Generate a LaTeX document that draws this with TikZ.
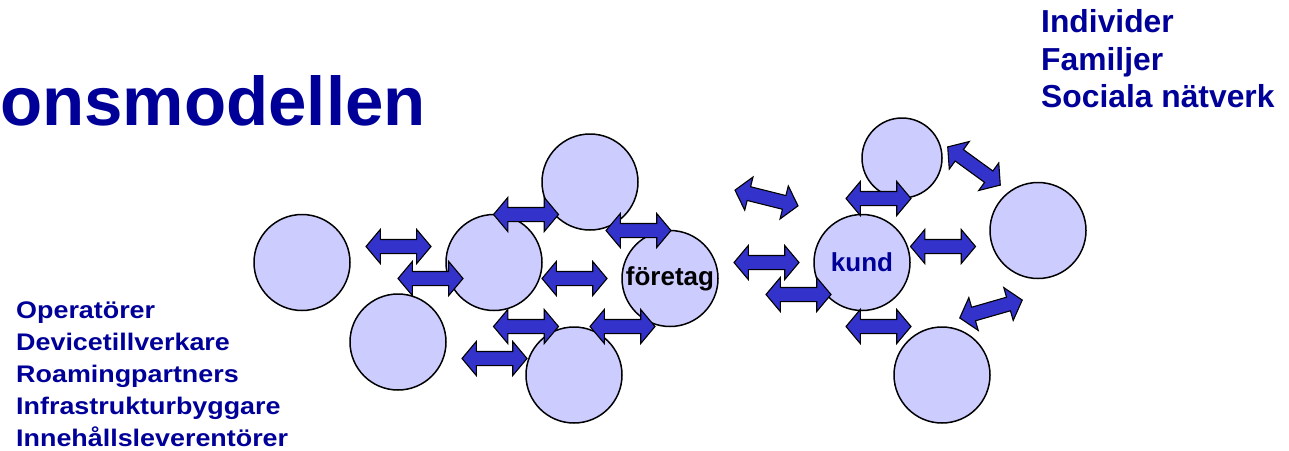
\documentclass[tikz,border=0pt]{standalone}
\usepackage{fontspec}
\setmainfont{Liberation Sans}
\usetikzlibrary{shapes.arrows}
\definecolor{circfill}{HTML}{CCCCFF}
\definecolor{arrfill}{HTML}{3333CC}
\definecolor{navy}{HTML}{000099}
\tikzset{
  ent/.style={circle, draw=black, line width=1.5pt, fill=circfill,
    minimum size=96pt, inner sep=0pt, font=\bfseries\fontsize{26}{30}\selectfont},
  link/.style={double arrow, draw=black, line width=1.1pt, fill=arrfill,
    minimum height=65pt, inner xsep=0pt, inner ysep=6.5pt,
    double arrow head extend=10pt, double arrow tip angle=100,
    text height=0pt, text depth=0pt},
  titletext/.style={anchor=base west, inner sep=0pt, text=navy,
    font=\bfseries\fontsize{69}{80}\selectfont},
  lefttext/.style={anchor=base west, inner sep=0pt, text=navy, xscale=1.12, transform shape,
    font=\bfseries\fontsize{24}{28}\selectfont},
  righttext/.style={anchor=base west, inner sep=0pt, text=navy,
    font=\bfseries\fontsize{31.8}{36}\selectfont}
}
\begin{document}
\begin{tikzpicture}[x=1pt,y=-1pt]
\useasboundingbox (0,0) rectangle (1289,450);
% texts
\node[titletext] (title) at (0,125) {onsmodellen};
\node[righttext] (r1) at (1041,32) {Individer};
\node[righttext] (r2) at (1041,70) {Familjer};
\node[righttext] (r3) at (1041,107) {Sociala nätverk};
\node[lefttext] (l1) at (16,318) {Operatörer};
\node[lefttext] (l2) at (16,350) {Devicetillverkare};
\node[lefttext] (l3) at (16,382) {Roamingpartners};
\node[lefttext] (l4) at (16,414) {Infrastrukturbyggare};
\node[lefttext] (l5) at (16,446) {Innehållsleverentörer};
% circles
\node[ent] (c1) at (302,262.5) {};
\node[ent] (c2) at (494,262.5) {};
\node[ent] (c3) at (398,342) {};
\node[ent] (c4) at (590,182) {};
\node[ent] (c5) at (574,375) {};
\node[ent] (ftg) at (670,278.5) {företag};
\node[ent, text=navy] (kund) at (862,262.5) {kund};
\node[ent, minimum size=80pt] (d1) at (902,158) {};
\node[ent] (d2) at (1038,230.5) {};
\node[ent] (d3) at (942,375) {};
% arrows
\node[link] (a1) at (398.5,246.5) {};
\node[link] (a2) at (430.5,278.5) {};
\node[link] (a3) at (526,214.5) {};
\node[link] (a4) at (574.5,278.5) {};
\node[link] (a5) at (638.5,230.5) {};
\node[link] (a6) at (526,326.5) {};
\node[link] (a7) at (622.5,326.5) {};
\node[link] (a8) at (494.5,358.5) {};
\node[link, rotate=-14] (b1) at (766.5,198) {};
\node[link] (b2) at (766.5,262.5) {};
\node[link] (b3) at (798.5,294.5) {};
\node[link] (b4) at (878.5,198.5) {};
\node[link] (b5) at (943,246.5) {};
\node[link] (b6) at (878.5,326.5) {};
\node[link, rotate=-36] (b7) at (974,166) {};
\node[link, rotate=16] (b8) at (991,309) {};
\end{tikzpicture}
\end{document}
